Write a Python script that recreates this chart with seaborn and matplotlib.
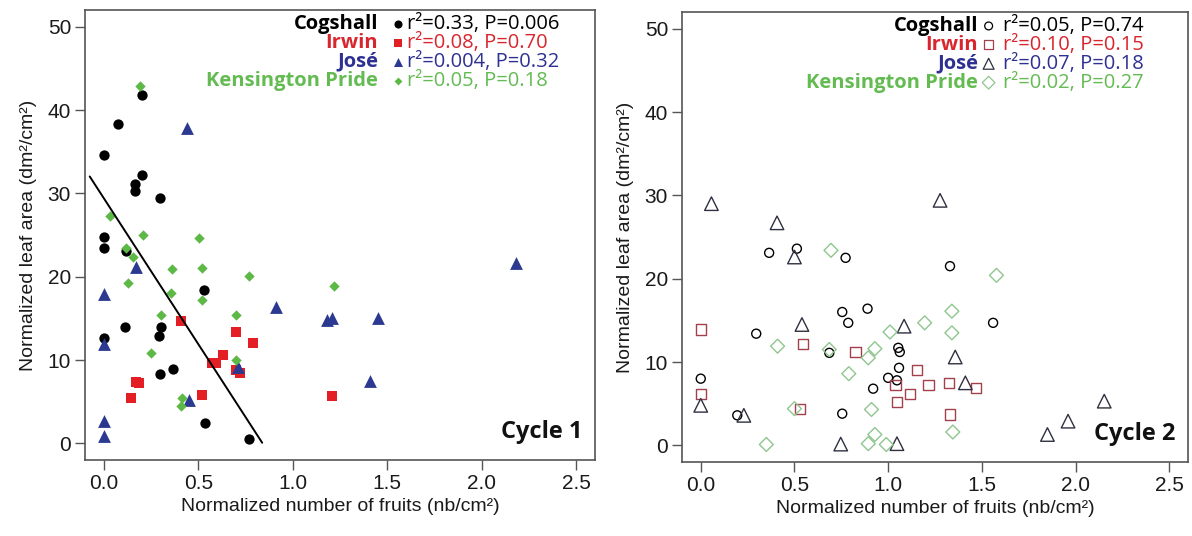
import pandas as pd
import numpy as np
import matplotlib.pyplot as plt
import seaborn as sns

### 데이터 - Cycle 1 (채워진 마커)
c1_cog_x = [0.20, 0.076, 0.0, 0.20, 0.165, 0.165, 0.296, 0.0, 0.0, 0.115, 0.53, 0.11, 0.30, 0.0, 0.29, 0.365, 0.296, 0.533, 0.767]
c1_cog_y = [41.8, 38.3, 34.6, 32.2, 31.1, 30.3, 29.5, 24.8, 23.4, 23.1, 18.4, 14.0, 14.0, 12.7, 12.9, 8.9, 8.3, 2.5, 0.5]
c1_irw_x = [0.406, 0.697, 0.79, 0.632, 0.573, 0.596, 0.702, 0.723, 0.168, 0.185, 0.141, 0.52, 1.21]
c1_irw_y = [14.7, 13.4, 12.1, 10.6, 9.6, 9.6, 8.8, 8.4, 7.4, 7.3, 5.5, 5.8, 5.7]
c1_jos_x = [0.44, 0.17, 2.18, 0.0, 0.912, 1.18, 1.21, 1.45, 0.0, 0.709, 1.41, 0.453, 0.0, 0.0]
c1_jos_y = [37.8, 21.2, 21.7, 17.9, 16.4, 14.8, 15.1, 15.1, 11.9, 9.2, 7.5, 5.2, 2.7, 0.9]
c1_ken_x = [0.19, 0.03, 0.206, 0.506, 0.115, 0.155, 0.362, 0.517, 0.767, 0.127, 1.22, 0.357, 0.517, 0.30, 0.70, 0.25, 0.697, 0.415, 0.41]
c1_ken_y = [42.9, 27.3, 25.0, 24.7, 23.4, 22.4, 20.9, 21.1, 20.1, 19.3, 18.9, 18.0, 17.2, 15.4, 15.4, 10.8, 10.0, 5.5, 4.5]

### 데이터 - Cycle 2 (빈 마커)
c2_cog_x = [0.365, 0.513, 0.773, 1.33, 0.755, 0.89, 0.787, 1.56, 0.296, 0.686, 1.054, 1.062, 1.058, 0.0, 1.0, 1.047, 0.92, 0.195, 0.755]
c2_cog_y = [23.1, 23.6, 22.5, 21.5, 16.0, 16.4, 14.7, 14.7, 13.4, 11.1, 11.7, 11.2, 9.3, 8.0, 8.1, 7.8, 6.8, 3.6, 3.8]
c2_irw_x = [0.0, 0.545, 0.826, 1.153, 1.04, 1.215, 1.323, 1.468, 1.118, 1.047, 0.0, 0.53, 1.33]
c2_irw_y = [13.9, 12.2, 11.2, 9.0, 7.2, 7.2, 7.5, 6.9, 6.2, 5.2, 6.2, 4.4, 3.7]
c2_jos_x = [0.057, 1.277, 0.407, 0.50, 0.54, 1.085, 1.358, 1.412, 0.0, 0.23, 0.747, 1.047, 2.153, 1.96, 1.85]
c2_jos_y = [29.0, 29.4, 26.7, 22.6, 14.5, 14.3, 10.6, 7.5, 4.8, 3.6, 0.15, 0.2, 5.3, 2.9, 1.3]
c2_ken_x = [0.695, 1.578, 1.34, 1.195, 1.01, 1.34, 0.41, 0.686, 0.929, 0.894, 0.79, 0.5, 0.911, 1.345, 0.929, 0.35, 0.894, 0.99]
c2_ken_y = [23.4, 20.4, 16.1, 14.7, 13.6, 13.5, 11.9, 11.5, 11.6, 10.5, 8.6, 4.4, 4.3, 1.6, 1.3, 0.1, 0.2, 0.1]

cultivars = ['Cogshall', 'Irwin', 'José', 'Kensington Pride']
c1_stats = ['r²=0.33, P=0.006', 'r²=0.08, P=0.70', 'r²=0.004, P=0.32', 'r²=0.05, P=0.18']
c2_stats = ['r²=0.05, P=0.74', 'r²=0.10, P=0.15', 'r²=0.07, P=0.18', 'r²=0.02, P=0.27']

# Cogshall 회귀선 (Cycle 1)
fit_intercept = 29.4
fit_slope = -35.0
fit_x = [-0.075, 0.838]

x_ticks = [0.0, 0.5, 1.0, 1.5, 2.0, 2.5]
y_ticks = [0, 10, 20, 30, 40, 50]

### 데이터프레임 만들기
def make_df(xs, ys):
    parts = [pd.DataFrame({'x': x, 'y': y, 'cv': name}) for x, y, name in zip(xs, ys, cultivars)]
    return pd.concat(parts, ignore_index=True)

df1 = make_df([c1_cog_x, c1_irw_x, c1_jos_x, c1_ken_x], [c1_cog_y, c1_irw_y, c1_jos_y, c1_ken_y])
df2 = make_df([c2_cog_x, c2_irw_x, c2_jos_x, c2_ken_x], [c2_cog_y, c2_irw_y, c2_jos_y, c2_ken_y])

### 스타일
sns.set_style('ticks')
leg_font = ['Open Sans', 'DejaVu Sans']
plt.rcParams['font.family'] = ['Liberation Sans', 'DejaVu Sans']

text_col = ['#000000', '#d9262e', '#2e3192', '#63bb52']
fill_col = ['#000000', '#e31e24', '#2b3990', '#5cb946']
fill_mk = ['o', 's', '^', 'D']
fill_sz = [55, 48, 85, 28]
open_col = ['#000000', '#a3404c', '#2f3040', '#8fc68f']
open_mk = ['o', 's', '^', 'D']
open_sz = [42, 55, 95, 50]

fig = plt.figure(figsize=(11.92, 5.36), dpi=100)
ax1 = fig.add_axes([85 / 1192, 1 - 460 / 536, 510 / 1192, 450 / 536])
ax2 = fig.add_axes([682 / 1192, 1 - 462 / 536, 506 / 1192, 450 / 536])

# Cycle 1 산점도
for i, name in enumerate(cultivars):
    sub = df1[df1['cv'] == name]
    sns.scatterplot(data=sub, x='x', y='y', marker=fill_mk[i], s=fill_sz[i],
                    color=fill_col[i], linewidth=0, ax=ax1, zorder=3)

# 회귀선
line_df = pd.DataFrame({'x': fit_x})
line_df['y'] = fit_intercept + fit_slope * line_df['x']
sns.lineplot(data=line_df, x='x', y='y', color='black', linewidth=1.4, ax=ax1, zorder=4)

# Cycle 2 산점도
for i, name in enumerate(cultivars):
    sub = df2[df2['cv'] == name]
    sns.scatterplot(data=sub, x='x', y='y', marker=open_mk[i], s=open_sz[i],
                    facecolor='none', edgecolor=open_col[i], linewidth=1.0, ax=ax2, zorder=3)

### 축, 범례 글자
panels = [
    (ax1, c1_stats, fill_col, [34, 30, 42, 16], True, 'Cycle 1', [0.575, 0.614, 0.631]),
    (ax2, c2_stats, open_col, [32, 42, 62, 42], False, 'Cycle 2', [0.585, 0.606, 0.634]),
]
rows_y = [0.969, 0.927, 0.885, 0.843]
for ax, stats, mcols, msz, filled, cycle, xpos in panels:
    ax.set_xlim(-0.1, 2.6)
    ax.set_ylim(-2, 52)
    ax.set_xticks(x_ticks)
    ax.set_yticks(y_ticks)
    ax.set_xticklabels([f'{v:.1f}' for v in x_ticks])
    ax.set_yticklabels([str(v) for v in y_ticks])
    ax.tick_params(labelsize=15, length=7, width=1, color='#555555', pad=3, labelcolor='#1a1a1a')
    for sp in ax.spines.values():
        sp.set_visible(True)
        sp.set_color('#555555')
        sp.set_linewidth(1.2)
    ax.set_xlabel('Normalized number of fruits (nb/cm²)', fontsize=14, labelpad=4, color='#1a1a1a')
    ax.set_ylabel('Normalized leaf area (dm²/cm²)', fontsize=14, labelpad=8, color='#1a1a1a')

    for j in range(4):
        ax.text(xpos[0], rows_y[j], cultivars[j], transform=ax.transAxes, ha='right', va='center',
                fontsize=14.5, fontweight='bold', color=text_col[j], family=leg_font)
        ax.text(xpos[2], rows_y[j], stats[j], transform=ax.transAxes, ha='left', va='center',
                fontsize=14.5, color=text_col[j], family=leg_font)
        if filled:
            ax.scatter([xpos[1]], [rows_y[j]], transform=ax.transAxes, marker=fill_mk[j], s=msz[j],
                       color=mcols[j], linewidth=0, clip_on=False, zorder=5)
        else:
            ax.scatter([xpos[1]], [rows_y[j]], transform=ax.transAxes, marker=open_mk[j], s=msz[j],
                       facecolor='none', edgecolor=mcols[j], linewidth=0.9, clip_on=False, zorder=5)
    ax.text(0.975, 0.035, cycle, transform=ax.transAxes, ha='right', va='bottom',
            fontsize=17, fontweight='bold', color='#111111', family=leg_font)

fig.savefig('out.png', dpi=100)
